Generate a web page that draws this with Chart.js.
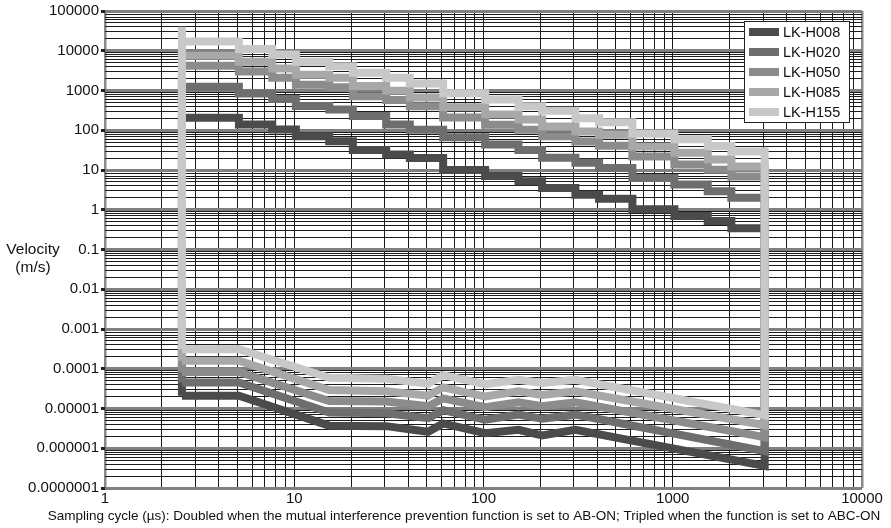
<!DOCTYPE html>
<html>
<head>
<meta charset="utf-8">
<script src="https://cdn.jsdelivr.net/npm/chart.js@4.4.1/dist/chart.umd.min.js"></script>
<style>
  body { margin: 0; background: #fff; }
  #wrap { width: 891px; height: 528px; }
</style>
</head>
<body>
<div id="wrap"><canvas id="chart" width="891" height="528"></canvas></div>
<script>
const FONT = '"Liberation Sans", Arial, Helvetica, sans-serif';

const seriesNames = ['LK-H008', 'LK-H020', 'LK-H050', 'LK-H085', 'LK-H155'];
const seriesColors = ['#4b4b4b', '#6e6e6e', '#8c8c8c', '#a8a8a8', '#c8c8c8'];

// sampling cycles where the max-velocity staircase steps (us)
const stepCycles = [2.55, 5.1, 7.65, 10.2, 15.3, 20.4, 30.6, 40.8, 61.2, 102, 153, 204, 306, 408, 612, 1020, 1530, 2040, 3060];

// max velocity per step (m/s)
const h008Max = [206, 140, 105, 71, 53, 32, 24.7, 20, 10, 7.1, 5.2, 3.5, 2.4, 1.9, 1.03, 0.7, 0.52, 0.34];
const h020Max = [1240, 840, 610, 410, 333, 227, 140, 103, 67, 44, 32, 20.4, 15.3, 11.2, 6.3, 4.3, 2.9, 2.0];
const h050Max = [4200, 3000, 2100, 1400, 1200, 720, 580, 400, 210, 137, 103, 71, 52, 41, 22, 13.8, 10.2, 6.9];
const h085Max = [7500, 5250, 3600, 2500, 2100, 1300, 980, 670, 380, 250, 187, 124, 93, 77, 39, 27, 18.5, 12.3];
const h155Max = [17000, 11000, 8000, 5300, 4100, 2800, 2100, 1500, 850, 590, 400, 310, 200, 160, 82, 59, 40, 29];

// min velocity curve (m/s)
const lowCycles = [2.55, 5.1, 15.3, 30.6, 51, 61.2, 102, 153, 204, 306, 3060];
const h008Min = [2.1e-5, 2.1e-5, 3.7e-6, 3.6e-6, 2.6e-6, 4.2e-6, 2.4e-6, 2.9e-6, 2.1e-6, 2.9e-6, 3.6e-7];
const h020Min = [4.5e-5, 4.5e-5, 7.9e-6, 7.6e-6, 5.7e-6, 9.1e-6, 5.2e-6, 7.0e-6, 5.5e-6, 7.0e-6, 8.5e-7];
const h050Min = [8.3e-5, 8.3e-5, 1.55e-5, 1.5e-5, 1.14e-5, 1.8e-5, 1.08e-5, 1.44e-5, 1.14e-5, 1.44e-5, 1.9e-6];
const h085Min = [1.6e-4, 1.6e-4, 2.9e-5, 2.7e-5, 2.1e-5, 3.4e-5, 2.0e-5, 2.7e-5, 2.2e-5, 2.7e-5, 3.8e-6];
const h155Min = [3.1e-4, 3.1e-4, 5.9e-5, 5.6e-5, 4.2e-5, 6.9e-5, 4.1e-5, 5.3e-5, 4.4e-5, 5.3e-5, 6.8e-6];

// the left bar of LK-H155 runs higher than its first step
const leftBarTop = [null, null, null, null, 40000];

const maxSets = [h008Max, h020Max, h050Max, h085Max, h155Max];
const minSets = [h008Min, h020Min, h050Min, h085Min, h155Min];

const xTickLabels = ['1', '10', '100', '1000', '10000'];
const yTickLabels = ['0.0000001', '0.000001', '0.00001', '0.0001', '0.001', '0.01', '0.1', '1', '10', '100', '1000', '10000', '100000'];

const xTitle = 'Sampling cycle (\u00b5s): Doubled when the mutual interference prevention function is set to AB-ON; Tripled when the function is set to ABC-ON';
const yTitle = ['Velocity', '(m/s)'];

// closed outline: left bar up, staircase, right bar down, min curve back
function buildPath(maxV, minV, top) {
  const pts = [];
  pts.push({ x: lowCycles[0], y: minV[0] });
  if (top) pts.push({ x: stepCycles[0], y: top });
  for (let i = 0; i < maxV.length; i++) {
    pts.push({ x: stepCycles[i], y: maxV[i] });
    pts.push({ x: stepCycles[i + 1], y: maxV[i] });
  }
  for (let j = lowCycles.length - 1; j >= 0; j--) {
    pts.push({ x: lowCycles[j], y: minV[j] });
  }
  return pts;
}

// 1..9 per decade, decades marked major
function makeTicks(labels, firstExp) {
  const ticks = [];
  for (let k = 0; k < labels.length; k++) {
    const base = Math.pow(10, firstExp + k);
    ticks.push({ value: base, major: true, name: labels[k] });
    if (k === labels.length - 1) break;
    for (let m = 2; m <= 9; m++) {
      ticks.push({ value: parseFloat((m * base).toPrecision(6)), major: false, name: '' });
    }
  }
  return ticks;
}

const datasets = seriesNames.map((name, i) => ({
  label: name,
  data: buildPath(maxSets[i], minSets[i], leftBarTop[i]),
  borderColor: seriesColors[i],
  backgroundColor: seriesColors[i],
  borderWidth: 8,
  borderJoinStyle: 'miter',
  borderCapStyle: 'butt',
  pointRadius: 0,
  fill: false,
  tension: 0,
  order: seriesNames.length - i
}));

const extras = {
  id: 'extras',
  afterDraw(chart) {
    const ctx = chart.ctx;
    const area = chart.chartArea;
    ctx.save();

    // legend box in the top right corner
    const bx = area.right - 118, by = area.top + 10, bw = 105, bh = 101;
    ctx.fillStyle = '#fff';
    ctx.fillRect(bx, by, bw, bh);
    ctx.strokeStyle = '#222';
    ctx.lineWidth = 1;
    ctx.strokeRect(bx + 0.5, by + 0.5, bw, bh);
    ctx.font = '14.5px ' + FONT;
    ctx.textBaseline = 'middle';
    ctx.textAlign = 'left';
    chart.data.datasets.forEach((ds, i) => {
      const yy = by + 11 + i * 20;
      ctx.fillStyle = ds.borderColor;
      ctx.fillRect(bx + 5, yy - 4, 30, 8);
      ctx.fillStyle = '#111';
      ctx.fillText(ds.label, bx + 39, yy + 1);
    });

    // y title, level with the 0.1 label
    const ty = chart.scales.y.getPixelForValue(0.1);
    ctx.font = '15.5px ' + FONT;
    ctx.textAlign = 'center';
    ctx.fillStyle = '#111';
    ctx.fillText(yTitle[0], 33, ty);
    ctx.fillText(yTitle[1], 33, ty + 18);

    // x title
    ctx.font = '13.5px ' + FONT;
    ctx.fillText(xTitle, 464, 516);
    ctx.restore();
  }
};

new Chart(document.getElementById('chart'), {
  type: 'line',
  data: { datasets: datasets },
  options: {
    responsive: false,
    animation: false,
    devicePixelRatio: 1,
    events: [],
    layout: { padding: { top: 10, right: 29, left: 0, bottom: 0 } },
    plugins: { legend: { display: false }, tooltip: { enabled: false } },
    scales: {
      x: {
        type: 'logarithmic',
        min: 1,
        max: 10000,
        afterBuildTicks: s => { s.ticks = makeTicks(xTickLabels, 0); },
        afterFit: s => { s.height = 40; },
        border: { display: false },
        grid: {
          drawTicks: false,
          color: c => (c.tick && (c.tick.value === 1 || c.tick.value === 10000)) ? '#8a8a8a' : '#1c1c1c',
          lineWidth: c => (c.tick && (c.tick.value === 1 || c.tick.value === 10000)) ? 2.5 : 1
        },
        ticks: {
          autoSkip: false,
          maxRotation: 0,
          padding: 2,
          color: '#111',
          font: { family: FONT, size: 15 },
          callback: (v, i, t) => t[i].major ? t[i].name : ''
        }
      },
      y: {
        type: 'logarithmic',
        min: 1e-7,
        max: 1e5,
        afterBuildTicks: s => { s.ticks = makeTicks(yTickLabels, -7); },
        afterFit: s => { s.width = 105; },
        border: { display: false },
        grid: {
          tickLength: 4,
          color: c => (c.tick && c.tick.major) ? '#808080' : '#1c1c1c',
          lineWidth: c => (c.tick && c.tick.major) ? 3 : 1,
          tickColor: c => (c.tick && c.tick.major) ? '#222' : 'rgba(0,0,0,0)'
        },
        ticks: {
          autoSkip: false,
          padding: 2,
          color: '#111',
          font: { family: FONT, size: 15 },
          callback: (v, i, t) => t[i].major ? t[i].name : ''
        }
      }
    }
  },
  plugins: [extras]
});
</script>
</body>
</html>
